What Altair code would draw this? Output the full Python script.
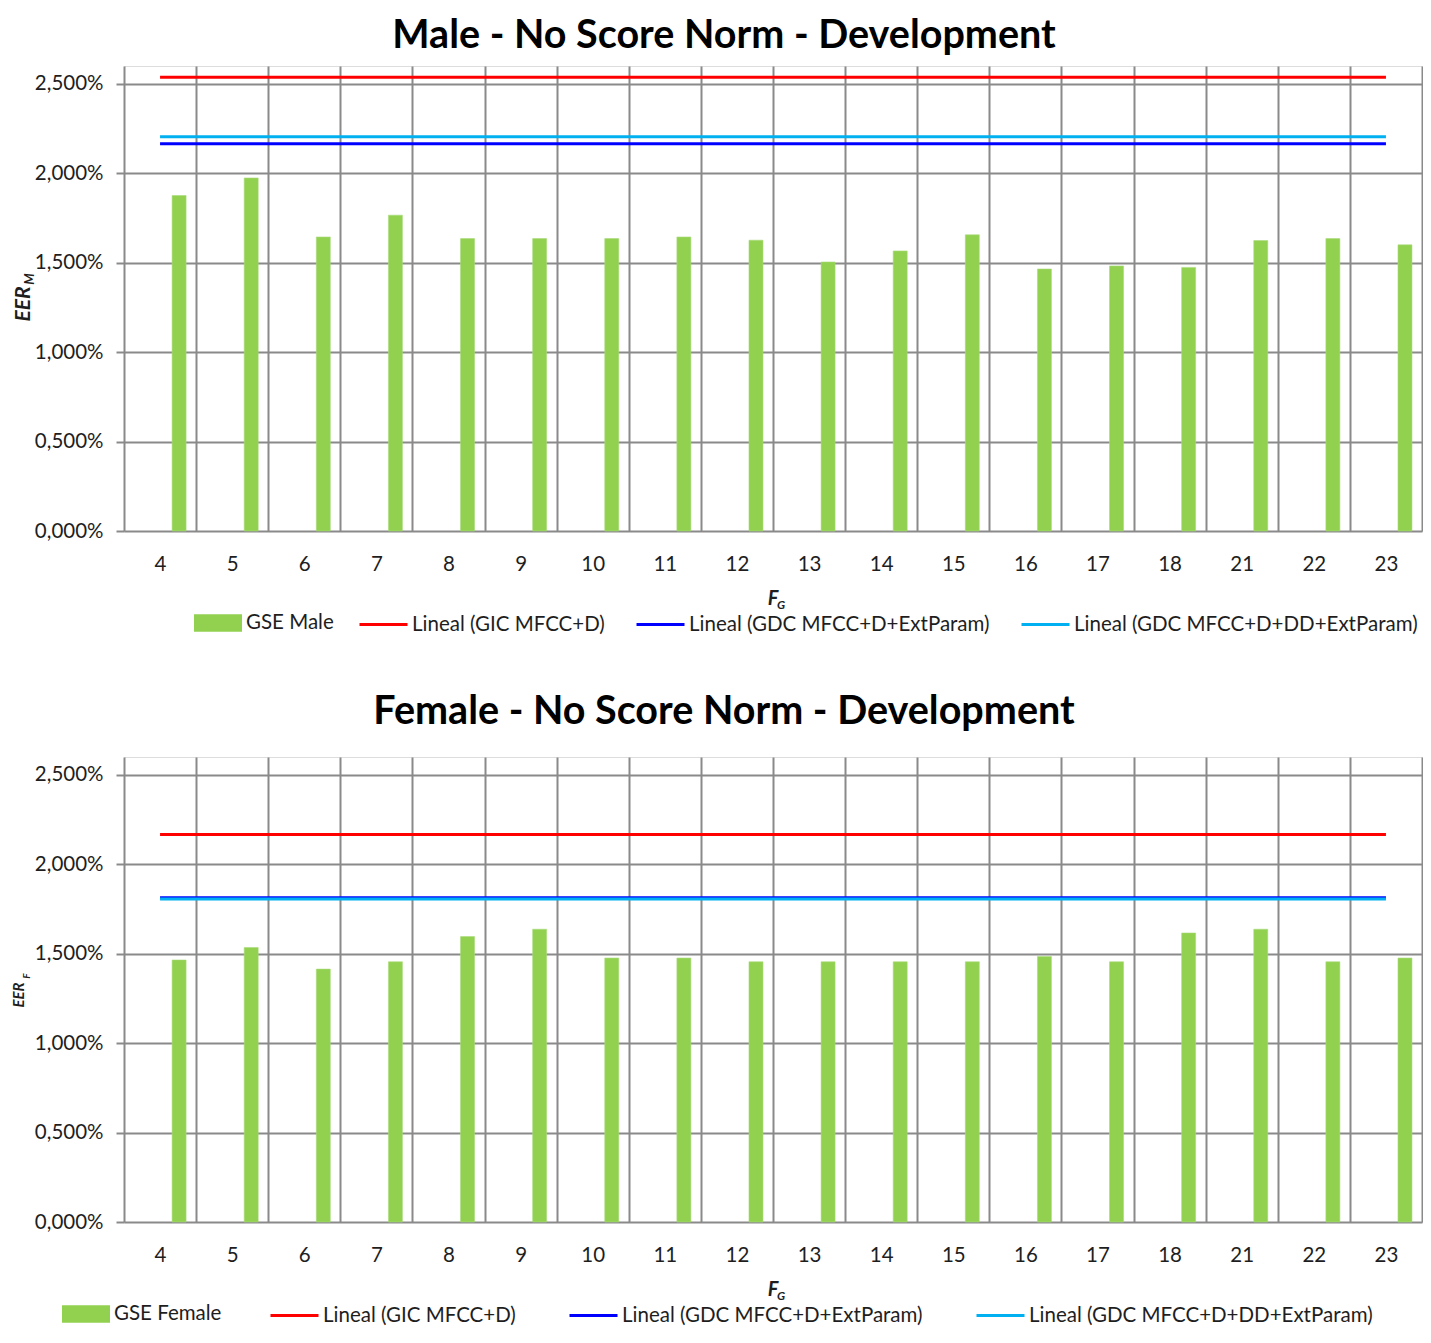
import altair as alt
import pandas as pd

# ---------------- data ----------------
categories = ["4", "5", "6", "7", "8", "9", "10", "11", "12", "13", "14", "15", "16", "17", "18", "21", "22", "23"]
male_gse = [1.876, 1.974, 1.644, 1.766, 1.635, 1.635, 1.635, 1.644, 1.626, 1.504, 1.566, 1.656, 1.465, 1.482, 1.474, 1.624, 1.635, 1.600]
female_gse = [1.465, 1.535, 1.414, 1.455, 1.596, 1.637, 1.476, 1.476, 1.455, 1.455, 1.455, 1.455, 1.485, 1.455, 1.616, 1.637, 1.455, 1.476]
line_names = ["Lineal (GIC MFCC+D)", "Lineal (GDC MFCC+D+ExtParam)", "Lineal (GDC MFCC+D+DD+ExtParam)"]
male_lines = [2.537, 2.165, 2.204]
female_lines = [2.167, 1.813, 1.806]
y_ticks = [0, 0.5, 1.0, 1.5, 2.0, 2.5]

# ---------------- style ----------------
PLOT_W, PLOT_H = 1298, 465
FONT = "Lato"
GRID = "#8a8a8a"
BAR = "#92d050"
LINE_COLORS = ["#ff0000", "#0000ff", "#00b0f0"]
TXT = "#1e1e1e"
LAB = 20.5
n = len(categories)
cat_expr = "[" + ",".join("'" + c + "'" for c in categories) + "]"


def panel(title, title_size, title_offset, bar_label, bar_values, line_values, ysub, ysty,
          leg_bar_x, leg_line_x, leg_gap):
    bars = pd.DataFrame({"idx": list(range(n)), "cat": categories, "value": bar_values, "series": bar_label})
    rows = []
    for s, v in zip(line_names, line_values):
        for i in range(n):
            rows.append({"idx": i, "series": s, "value": v})
    lines = pd.DataFrame(rows)

    x_scale = alt.Scale(domain=[0, n], nice=False, zero=False)
    y_scale = alt.Scale(domain=[0, 2.6], nice=False, zero=True)

    grid_axis = alt.Axis(
        orient="bottom", values=list(range(n + 1)), labels=False, ticks=False, domain=False,
        grid=True, gridColor=GRID, gridWidth=2, title=None,
    )
    label_axis = alt.Axis(
        orient="bottom", values=[i + 0.5 for i in range(n)],
        labelExpr=f"{cat_expr}[floor(datum.value)]",
        labelFlush=False, labelOverlap=False,
        labelFont=FONT, labelFontSize=LAB, labelColor=TXT, labelPadding=23,
        ticks=False, domain=False, grid=False, title=None,
    )
    y_axis = alt.Axis(
        values=y_ticks,
        labelExpr="replace(format(datum.value, '.3f'), '.', ',') + '%'",
        labelFont=FONT, labelFontSize=LAB, labelColor=TXT, labelPadding=13,
        ticks=True, tickSize=8, tickColor=GRID, tickWidth=2,
        domain=False, grid=True, gridColor=GRID, gridWidth=2,
        title=None,
    )

    bar_layer = alt.Chart(bars).transform_calculate(
        x0="datum.idx + 0.667", x1="datum.idx + 0.861", zero="0"
    ).mark_rect(stroke="#a9dc7a", strokeWidth=0.6).encode(
        x=alt.X("x0:Q", scale=x_scale, axis=grid_axis),
        x2="x1:Q",
        y=alt.Y("value:Q", scale=y_scale, axis=y_axis),
        y2="zero:Q",
        fill=alt.Fill(
            "series:N",
            scale=alt.Scale(domain=[bar_label], range=[BAR]),
            legend=alt.Legend(
                title=None, orient="none", legendX=leg_bar_x, legendY=533,
                symbolType="M-1,-0.36H1V0.36H-1Z", symbolSize=2304,
                symbolStrokeWidth=0, symbolOpacity=1,
                labelFont=FONT, labelFontSize=LAB, labelColor=TXT, labelOffset=4,
                labelLimit=600, padding=0,
            ),
        ),
    )

    line_layer = alt.Chart(lines).transform_calculate(
        xc="datum.idx + 0.5"
    ).mark_line(strokeWidth=3, strokeCap="butt").encode(
        x=alt.X("xc:Q", scale=x_scale, axis=label_axis),
        y=alt.Y("value:Q", scale=y_scale),
        stroke=alt.Stroke(
            "series:N",
            scale=alt.Scale(domain=line_names, range=LINE_COLORS),
            sort=line_names,
            legend=alt.Legend(
                title=None, orient="none", direction="horizontal",
                legendX=leg_line_x, legendY=533,
                symbolType="stroke", symbolSize=2304, symbolStrokeWidth=3,
                labelFont=FONT, labelFontSize=LAB, labelColor=TXT, labelOffset=3,
                labelLimit=600, columnPadding=leg_gap, padding=0,
            ),
        ),
    )

    def txt(t, size, x, y, angle=0):
        return alt.Chart(pd.DataFrame({"t": [t]})).mark_text(
            font=FONT, fontSize=size, fontWeight="bold", fontStyle="italic",
            color=TXT, angle=angle, align="center", baseline="middle",
        ).encode(text="t:N", x=alt.value(x), y=alt.value(y))

    (ey_size, ey_x, ey_y, es_size, es_x, es_y) = ysty
    y_title = txt("EER", ey_size, ey_x, ey_y, 270)
    y_sub = txt(ysub, es_size, es_x, es_y, 270)
    x_title = txt("F", 20, 649, 533)
    x_sub = txt("G", 12, 657, 539)

    return alt.layer(bar_layer, line_layer, y_title, y_sub, x_title, x_sub).resolve_axis(
        x="independent"
    ).properties(
        width=PLOT_W, height=PLOT_H,
        title=alt.TitleParams(
            text=title, font=FONT, fontSize=title_size, fontWeight="bold", color="black",
            anchor="middle", frame="group", dx=-49, offset=title_offset,
        ),
    )


top = panel("Male - No Score Norm - Development", 39.5, 10, "GSE Male", male_gse, male_lines,
            "M", (21, -100, 238, 13, -94, 213), 70, 234, 25)
bottom = panel("Female - No Score Norm - Development", 39.5, 25, "GSE Female", female_gse, female_lines,
               "F", (15, -105, 238, 10, -97, 219), -62, 145, 47)

chart = alt.vconcat(top, bottom, spacing=55).resolve_scale(
    fill="independent", stroke="independent"
).properties(
    padding={"top": 7, "left": 3, "right": 0, "bottom": 0}
).configure_view(stroke=None).configure(font=FONT)

chart.save("out.html", embed_options={"renderer": "svg", "actions": False})
